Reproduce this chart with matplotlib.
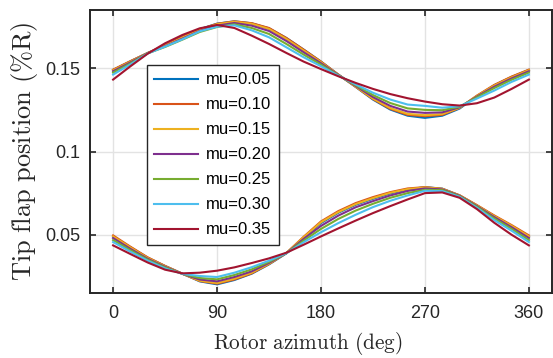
import numpy as np
import matplotlib
matplotlib.use('Agg')
from matplotlib import pyplot as plt

plt.rcParams['mathtext.fontset'] = 'cm'
plt.rcParams['font.family'] = ['Liberation Sans', 'DejaVu Sans']

# azimuth (deg)
azimuth = list(range(0, 361, 15))

mu_labels = ['mu=0.05', 'mu=0.10', 'mu=0.15', 'mu=0.20', 'mu=0.25', 'mu=0.30', 'mu=0.35']
colors = ['#0072BD', '#D95319', '#EDB120', '#7E2F8E', '#77AC30', '#4DBEEE', '#A2142F']

# ramo superiore
up_005 = [0.1490, 0.1542, 0.1592, 0.1638, 0.1688, 0.1735, 0.1768, 0.1782, 0.1770, 0.1740, 0.1682, 0.1612, 0.1540,
          0.1462, 0.1388, 0.1312, 0.1252, 0.1215, 0.1202, 0.1215, 0.1258, 0.1332, 0.1398, 0.1448, 0.1490]
up_010 = [0.1492, 0.1543, 0.1592, 0.1638, 0.1687, 0.1734, 0.1767, 0.1782, 0.1771, 0.1742, 0.1682, 0.1612, 0.1540,
          0.1462, 0.1389, 0.1315, 0.1256, 0.1220, 0.1212, 0.1220, 0.1262, 0.1336, 0.1400, 0.1450, 0.1492]
up_015 = [0.1488, 0.1539, 0.1592, 0.1636, 0.1684, 0.1731, 0.1764, 0.1779, 0.1767, 0.1736, 0.1676, 0.1606, 0.1536,
          0.1461, 0.1390, 0.1318, 0.1261, 0.1226, 0.1218, 0.1225, 0.1263, 0.1334, 0.1396, 0.1445, 0.1488]
up_020 = [0.1482, 0.1535, 0.1591, 0.1632, 0.1678, 0.1724, 0.1756, 0.1772, 0.1756, 0.1724, 0.1664, 0.1596, 0.1530,
          0.1460, 0.1394, 0.1327, 0.1274, 0.1240, 0.1232, 0.1235, 0.1266, 0.1330, 0.1389, 0.1439, 0.1482]
up_025 = [0.1474, 0.1529, 0.1590, 0.1628, 0.1672, 0.1718, 0.1748, 0.1764, 0.1742, 0.1706, 0.1646, 0.1582, 0.1522,
          0.1458, 0.1398, 0.1339, 0.1291, 0.1259, 0.1250, 0.1248, 0.1269, 0.1326, 0.1381, 0.1431, 0.1474]
up_030 = [0.1462, 0.1523, 0.1589, 0.1630, 0.1674, 0.1722, 0.1750, 0.1758, 0.1728, 0.1686, 0.1626, 0.1566, 0.1512,
          0.1456, 0.1403, 0.1353, 0.1312, 0.1282, 0.1274, 0.1263, 0.1272, 0.1318, 0.1366, 0.1418, 0.1462]
up_035 = [0.1432, 0.1512, 0.1588, 0.1650, 0.1700, 0.1740, 0.1760, 0.1742, 0.1696, 0.1646, 0.1592, 0.1540, 0.1495,
          0.1452, 0.1412, 0.1376, 0.1345, 0.1320, 0.1300, 0.1284, 0.1276, 0.1290, 0.1324, 0.1376, 0.1432]

# ramo inferiore
lo_005 = [0.0488, 0.0425, 0.0362, 0.0312, 0.0266, 0.0220, 0.0202, 0.0228, 0.0266, 0.0322, 0.0388, 0.0482, 0.0570,
          0.0632, 0.0680, 0.0716, 0.0748, 0.0772, 0.0786, 0.0777, 0.0736, 0.0676, 0.0612, 0.0552, 0.0488]
lo_010 = [0.0496, 0.0428, 0.0364, 0.0313, 0.0266, 0.0222, 0.0206, 0.0231, 0.0268, 0.0324, 0.0390, 0.0488, 0.0580,
          0.0642, 0.0690, 0.0726, 0.0756, 0.0778, 0.0786, 0.0776, 0.0737, 0.0678, 0.0616, 0.0558, 0.0496]
lo_015 = [0.0490, 0.0423, 0.0360, 0.0310, 0.0265, 0.0224, 0.0210, 0.0236, 0.0272, 0.0326, 0.0390, 0.0485, 0.0575,
          0.0636, 0.0684, 0.0720, 0.0752, 0.0774, 0.0784, 0.0775, 0.0736, 0.0676, 0.0612, 0.0554, 0.0490]
lo_020 = [0.0480, 0.0415, 0.0355, 0.0307, 0.0265, 0.0231, 0.0220, 0.0246, 0.0280, 0.0331, 0.0389, 0.0475, 0.0553,
          0.0615, 0.0665, 0.0702, 0.0736, 0.0763, 0.0778, 0.0772, 0.0734, 0.0672, 0.0606, 0.0545, 0.0480]
lo_025 = [0.0468, 0.0407, 0.0350, 0.0303, 0.0265, 0.0240, 0.0232, 0.0258, 0.0292, 0.0337, 0.0389, 0.0465, 0.0535,
          0.0595, 0.0645, 0.0686, 0.0722, 0.0750, 0.0770, 0.0768, 0.0731, 0.0668, 0.0598, 0.0535, 0.0468]
lo_030 = [0.0456, 0.0398, 0.0344, 0.0298, 0.0265, 0.0252, 0.0246, 0.0272, 0.0305, 0.0344, 0.0389, 0.0455, 0.0515,
          0.0570, 0.0620, 0.0666, 0.0704, 0.0736, 0.0764, 0.0762, 0.0728, 0.0662, 0.0588, 0.0524, 0.0456]
lo_035 = [0.0436, 0.0384, 0.0333, 0.0290, 0.0268, 0.0272, 0.0284, 0.0304, 0.0330, 0.0358, 0.0392, 0.0440, 0.0490,
          0.0538, 0.0585, 0.0630, 0.0672, 0.0712, 0.0750, 0.0754, 0.0722, 0.0654, 0.0572, 0.0500, 0.0436]

upper = [up_005, up_010, up_015, up_020, up_025, up_030, up_035]
lower = [lo_005, lo_010, lo_015, lo_020, lo_025, lo_030, lo_035]

fig = plt.figure(figsize=(5.53, 3.58), dpi=100)
ax = fig.add_axes([90/553, 65/358, 462/553, 283/358])

for up, lo, c, lab in zip(upper, lower, colors, mu_labels):
    ax.plot(azimuth, up, color=c, lw=1.5, label=lab)
    ax.plot(azimuth, lo, color=c, lw=1.5)

ax.set_xlim(-20, 380)
ax.set_ylim(0.015, 0.185)
ax.set_xticks([0, 90, 180, 270, 360])
ax.set_yticks([0.05, 0.1, 0.15])
ax.set_yticklabels(['0.05', '0.1', '0.15'])
ax.grid(True, color='#e3e3e3', lw=1)
ax.set_axisbelow(True)
ax.tick_params(direction='in', top=True, right=True, length=4, width=1.2,
               labelsize=13, colors='#262626')
ax.tick_params(axis='x', pad=9)
ax.tick_params(axis='y', pad=7)
for s in ax.spines.values():
    s.set_linewidth(1.4)
    s.set_color('#262626')

ax.set_xlabel(r'$\mathrm{Rotor\ azimuth\ (deg)}$', fontsize=15.3, color='#262626')
ax.xaxis.set_label_coords(0.471, -0.13)
ax.set_ylabel(r'$\mathrm{Tip\ flap\ position\ (\%R)}$', fontsize=19, color='#262626', labelpad=4)

leg = ax.legend(loc='upper left', bbox_to_anchor=(0.123, 0.806), borderaxespad=0,
                fontsize=12, fancybox=False, framealpha=1, edgecolor='#262626',
                handlelength=2.6, labelspacing=0.6, handletextpad=0.5, borderpad=0.45)
leg.get_frame().set_linewidth(1.0)

fig.savefig('out.png', dpi=100)
